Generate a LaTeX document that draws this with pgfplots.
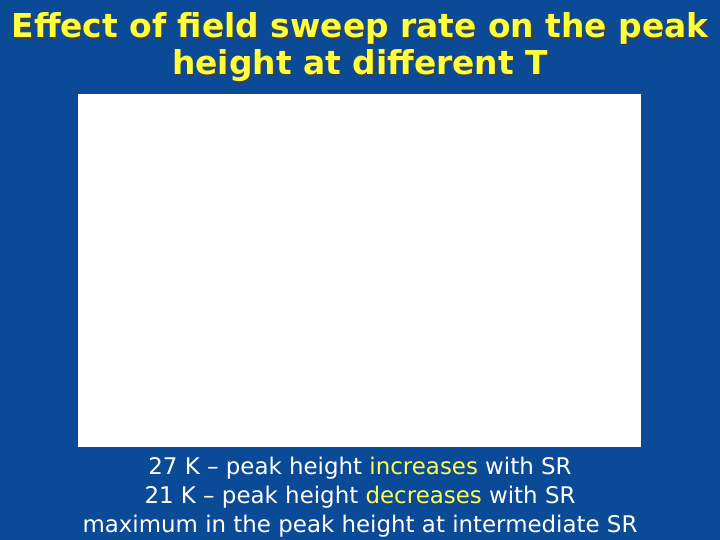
\documentclass[border=0pt]{standalone}
\usepackage{pgfplots}
\pgfplotsset{compat=1.18}
\usepackage{fontspec}
\setmainfont{DejaVu Sans}
\definecolor{slideblue}{RGB}{10,74,150}
\definecolor{titleyellow}{RGB}{255,255,60}
\definecolor{hiyellow}{RGB}{255,255,80}
\tikzset{
  slidetitle/.style={anchor=base, font=\bfseries\fontsize{33}{37}\selectfont},
  note/.style={anchor=base, text=white, font=\fontsize{23}{29}\selectfont},
}
\begin{document}
\begin{tikzpicture}[x=1bp,y=1bp]
  % slide background
  \fill[slideblue] (0,0) rectangle (720,540);
  \useasboundingbox (0,0) rectangle (720,540);
  % title with shadow
  \foreach \dx/\dy/\col in {1.5/-1.5/black!75, 0/0/titleyellow} {
    \node[slidetitle, text=\col] at (360+\dx,502+\dy) {Effect of field sweep rate on the peak};
    \node[slidetitle, text=\col] at (360+\dx,465+\dy) {height at different T};
  }
  % empty chart panel
  \begin{axis}[
    at={(78bp,93bp)},
    anchor=south west,
    scale only axis,
    width=563bp,
    height=353bp,
    xmin=0, xmax=1,
    ymin=0, ymax=1,
    ticks=none,
    axis line style={draw=none},
    axis background/.style={fill=white},
  ]
  \end{axis}
  % notes under the chart
  \node[note] at (360,65) {27 K -- peak height \textcolor{hiyellow}{increases} with SR};
  \node[note] at (360,36) {21 K -- peak height \textcolor{hiyellow}{decreases} with SR};
  \node[note] at (360,7) {maximum in the peak height at intermediate SR};
\end{tikzpicture}
\end{document}
